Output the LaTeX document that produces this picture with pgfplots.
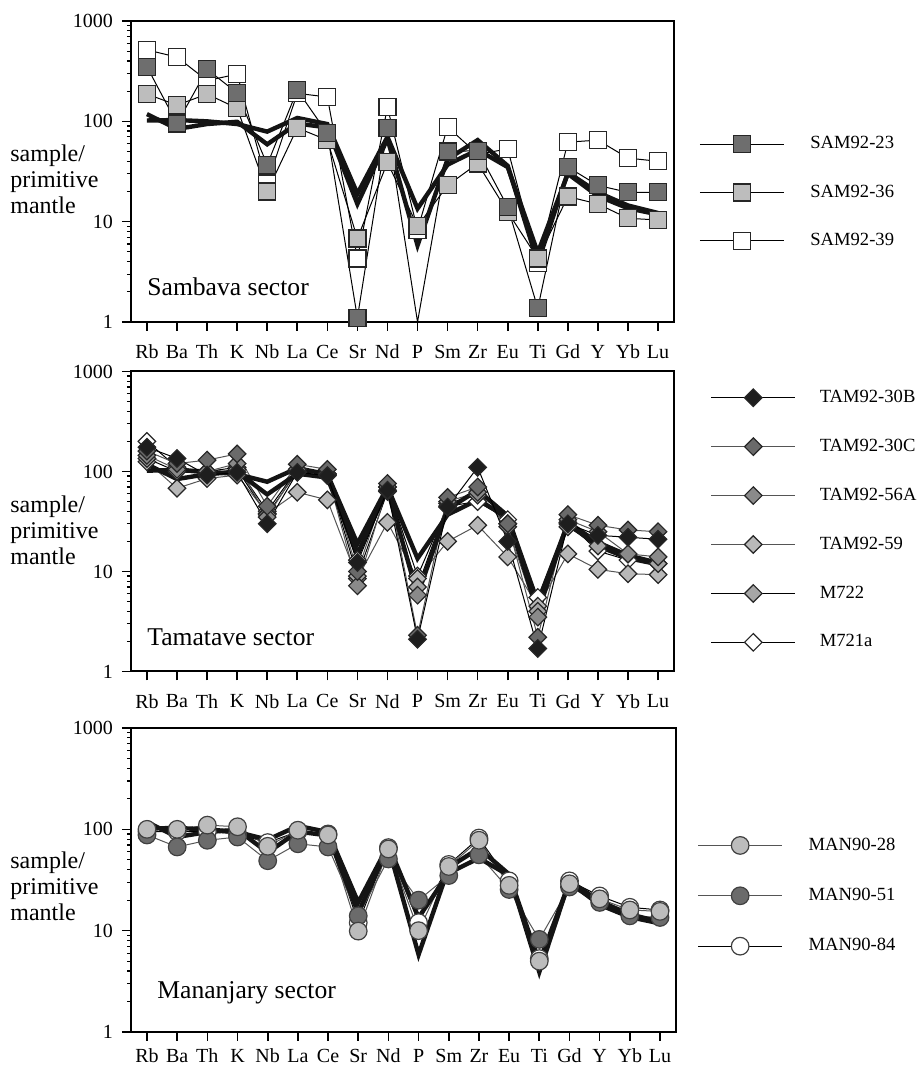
\documentclass[border=0pt]{standalone}
\usepackage{fontspec}
\setmainfont{Liberation Serif}
\usepackage{pgfplots}
\usepackage{pgfplotstable}
\pgfplotsset{compat=1.18}

\definecolor{sqdark}{HTML}{6E6E6E}
\definecolor{sqlight}{HTML}{BDBDBD}
\definecolor{dblack}{HTML}{1E1E1E}
\definecolor{dthirtyc}{HTML}{6A6A6A}
\definecolor{dfiftysix}{HTML}{8A8A8A}
\definecolor{dfiftynine}{HTML}{B8B8B8}
\definecolor{dseventwo}{HTML}{A6A6A6}
\definecolor{cLight}{HTML}{BCBCBC}
\definecolor{cDark}{HTML}{6B6B6B}
\definecolor{lgray}{HTML}{555555}

\pgfplotstableread{
x refA refB
0 118 102
1 84 103
2 94 100
3 99 94
4 59 79
5 95 108
6 87 94
7 15 19
8 67 70
9 5.8 13.5
10 42 37
11 65 52
12 36 35
13 3.9 4.9
14 31 30
15 19.5 18
16 14.5 13.6
17 12.2 11.8
}\refdata

\pgfplotstableread{
x samA samB samC
0 350 187 515
1 95 145 437
2 330 187 255
3 192 135 295
4 37 20 24
5 205 86 190
6 76 65 175
7 1.1 6.8 4.3
8 86 39 138
9 1 9 8.3
10 50 23 88
11 51 38 47
12 14 12.5 53
13 1.37 4.3 3.9
14 35 17.8 62
15 23 15 65
16 19.6 10.8 43
17 19.6 10.4 40
}\samdata
\pgfplotstableread{
x samA
0 350
1 95
2 330
3 192
4 37
5 205
6 76
7 1.1
8 86
10 50
11 51
12 14
13 1.37
14 35
15 23
16 19.6
17 19.6
}\samAmarks

\pgfplotstableread{
x tA tB tC tD tE tF
0 175 160 145 125 135 200
1 135 120 105 68 100 110
2 92 130 100 85 95 100
3 98 150 120 92 105 110
4 30 45 35 38 37 40
5 98 118 105 62 100 105
6 91 105 95 52 95 93
7 12.3 10 7.2 8.5 9 13
8 65 76 70 31 63 70
9 2.1 2.3 5.8 8.5 7 9
10 44 55 50 20 48 45
11 110 70 62 29 58 50
12 20 30 28 14 30 33
13 1.7 2.2 3.5 4.5 4 5.5
14 30 37 33 15 28 31
15 23 29 25 10.5 18 16
16 22 26 15 9.5 15 13
17 21 25 14 9.3 12 12
}\tamdata

\pgfplotstableread{
x mA mB mC
0 100 88 95
1 100 67 95
2 110 78 95
3 106 84 90
4 68 49 74
5 98 72 95
6 88 67 90
7 9.9 14 12
8 64 51 66
9 10 20 12
10 43 35 45
11 78 56 82
12 28 25.5 31
13 5.0 8.2 5.3
14 29 27 31
15 20.6 19 22
16 16 14 17
17 15.5 13.5 16
}\mandata

\pgfplotsset{
  every axis/.append style={
    anchor=south west, scale only axis,
    ymode=log, ymin=1, ymax=1000,
    xmin=-0.53, xmax=17.53,
    xtick={0,...,17},
    xticklabels={Rb,Ba,Th,K,Nb,La,Ce,Sr,Nd,P,Sm,Zr,Eu,Ti,Gd,Y,Yb,Lu},
    ytick={1,10,100,1000}, yticklabels={1,10,100,1000},
    minor ytick={2,3,4,5,6,7,8,9,20,30,40,50,60,70,80,90,200,300,400,500,600,700,800,900},
    tick align=outside, xtick pos=bottom, ytick pos=left,
    major tick length=4.5pt, minor tick length=2pt,
    axis line style={line width=1pt},
    major tick style={black, line width=0.8pt},
    minor tick style={black, line width=0.6pt},
    tick label style={font=\fontsize{10}{12}\selectfont},
    yticklabel style={xshift=-1pt},
    legend style={draw=none, fill=none, inner sep=0pt, anchor=west,
      font=\fontsize{9.3}{11}\selectfont},
    legend cell align=left,
    legend image code/.code={\draw[mark repeat=2,mark phase=2] plot coordinates {(0pt,0pt) (21pt,0pt) (42pt,0pt)};},
  },
  ser/.style={line width=0.5pt, black},
  thickref/.style={line width=2.2pt, color=black!92, line join=miter, miter limit=6, no markers, forget plot},
  sqm/.style={mark=square*, mark size=4.25pt, mark options={solid, draw=black!85, line width=0.6pt, fill=#1}},
  dim/.style={mark=square*, mark size=3.1pt, mark options={solid, rotate=45, draw=black!85, line width=0.6pt, fill=#1}},
  cim/.style={mark=*, mark size=4.4pt, mark options={solid, draw=black!75, line width=0.6pt, fill=#1}},
}

\begin{document}
\begin{tikzpicture}
\useasboundingbox (0,0) rectangle (459.5pt,533.5pt);

% ---------------- Sambava ----------------
\begin{axis}[at={(65.5pt,372.5pt)}, width=271.5pt, height=150.5pt,
  xticklabel style={yshift=-3.5pt},
  legend style={at={(1.046,0.43)}, row sep=12.5pt, column sep=11pt}]
\addplot[ser, sqm=white, forget plot] table[x=x,y=samC] {\samdata};
\addplot[ser, sqm=sqlight, forget plot] table[x=x,y=samB] {\samdata};
\addplot[ser, forget plot] table[x=x,y=samA] {\samdata};
\addplot[only marks, sqm=sqdark, forget plot] table[x=x,y=samA] {\samAmarks};
\addplot[thickref] table[x=x,y=refA] {\refdata};
\addplot[thickref] table[x=x,y=refB] {\refdata};
\addlegendimage{ser, sqm=sqdark}
\addlegendentry{SAM92-23}
\addlegendimage{ser, sqm=sqlight}
\addlegendentry{SAM92-36}
\addlegendimage{ser, sqm=white}
\addlegendentry{SAM92-39}
\end{axis}
\node[anchor=west, align=left, inner sep=0pt, font=\fontsize{12}{13}\selectfont] at (5pt, 444pt) {sample/\\primitive\\mantle};
\node[anchor=west, inner sep=0pt, font=\fontsize{12.8}{14}\selectfont] at (73.5pt, 390pt) {Sambava sector};

% ---------------- Tamatave ----------------
\begin{axis}[at={(65.5pt,197.75pt)}, width=271.5pt, height=150pt,
  xticklabel style={yshift=-3.5pt},
  legend style={at={(1.067,0.505)}, row sep=12.8pt, column sep=10pt}]
\addplot[ser, dim=white, forget plot] table[x=x,y=tF] {\tamdata};
\addplot[ser, color=lgray, dim=dfiftynine, forget plot] table[x=x,y=tD] {\tamdata};
\addplot[ser, dim=dseventwo, forget plot] table[x=x,y=tE] {\tamdata};
\addplot[ser, color=lgray, dim=dfiftysix, forget plot] table[x=x,y=tC] {\tamdata};
\addplot[ser, color=lgray, dim=dthirtyc, forget plot] table[x=x,y=tB] {\tamdata};
\addplot[thickref] table[x=x,y=refA] {\refdata};
\addplot[thickref] table[x=x,y=refB] {\refdata};
\addplot[ser, dim=dblack, forget plot] table[x=x,y=tA] {\tamdata};
\addlegendimage{ser, dim=dblack}
\addlegendentry{TAM92-30B}
\addlegendimage{ser, color=lgray, dim=dthirtyc}
\addlegendentry{TAM92-30C}
\addlegendimage{ser, color=lgray, dim=dfiftysix}
\addlegendentry{TAM92-56A}
\addlegendimage{ser, color=lgray, dim=dfiftynine}
\addlegendentry{TAM92-59}
\addlegendimage{ser, dim=dseventwo}
\addlegendentry{M722}
\addlegendimage{ser, dim=white}
\addlegendentry{M721a}
\end{axis}
\node[anchor=west, align=left, inner sep=0pt, font=\fontsize{12}{13}\selectfont] at (5pt, 268.5pt) {sample/\\primitive\\mantle};
\node[anchor=west, inner sep=0pt, font=\fontsize{12.8}{14}\selectfont] at (73.5pt, 215pt) {Tamatave sector};

% ---------------- Mananjary ----------------
\begin{axis}[at={(65.5pt,17.5pt)}, width=272.5pt, height=152pt,
  xticklabel style={yshift=-0.5pt},
  legend style={at={(1.039,0.448)}, row sep=13.5pt, column sep=11pt}]
\addplot[ser, cim=white, forget plot] table[x=x,y=mC] {\mandata};
\addplot[ser, color=lgray, cim=cDark, forget plot] table[x=x,y=mB] {\mandata};
\addplot[ser, color=lgray, cim=cLight, forget plot] table[x=x,y=mA] {\mandata};
\addplot[thickref] table[x=x,y=refA] {\refdata};
\addplot[thickref] table[x=x,y=refB] {\refdata};
\addlegendimage{ser, color=lgray, cim=cLight}
\addlegendentry{MAN90-28}
\addlegendimage{ser, color=lgray, cim=cDark}
\addlegendentry{MAN90-51}
\addlegendimage{ser, cim=white}
\addlegendentry{MAN90-84}
\end{axis}
\node[anchor=west, align=left, inner sep=0pt, font=\fontsize{12}{13}\selectfont] at (5pt, 90.5pt) {sample/\\primitive\\mantle};
\node[anchor=west, inner sep=0pt, font=\fontsize{12.8}{14}\selectfont] at (78.5pt, 37pt) {Mananjary sector};
\end{tikzpicture}
\end{document}
